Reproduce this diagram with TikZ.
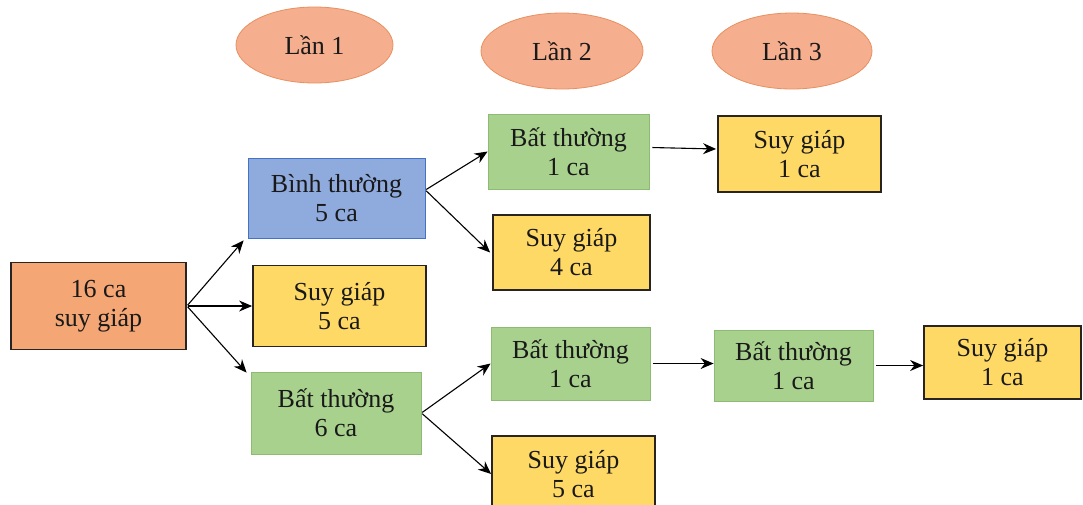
\documentclass[tikz,border=0pt]{standalone}
\usepackage{fontspec}
\setmainfont{Liberation Serif}
\usetikzlibrary{arrows.meta,shapes.geometric}
\definecolor{rootfill}{HTML}{F4A674}
\definecolor{yelfill}{HTML}{FFD966}
\definecolor{grnfill}{HTML}{A9D18E}
\definecolor{grnline}{HTML}{8DBB72}
\definecolor{blufill}{HTML}{8FAADC}
\definecolor{bluline}{HTML}{4472C4}
\definecolor{elfill}{HTML}{F5AE8E}
\definecolor{elline}{HTML}{E8905F}
\definecolor{darkline}{HTML}{2A2420}
\begin{document}
\begin{tikzpicture}[x=1pt,y=-1pt,
  every node/.style={inner sep=0pt, align=center, font=\fontsize{26}{29}\selectfont, text=black!90},
  rootbox/.style={draw=darkline, line width=1.8pt, fill=rootfill},
  yelbox/.style={draw=darkline, line width=1.8pt, fill=yelfill},
  grnbox/.style={draw=grnline, line width=0.8pt, fill=grnfill},
  blubox/.style={draw=bluline, line width=0.8pt, fill=blufill},
  roundlbl/.style={ellipse, draw=elline, line width=0.8pt, fill=elfill, font=\fontsize{26}{29}\selectfont},
  arr/.style={-{Stealth[length=13pt,width=11pt]}, line width=1.1pt, black, shorten <=1pt}
]
\useasboundingbox (0,0) rectangle (1083,504);
\fill[white] (0,0) rectangle (1083,504);

% ellipses
\node[roundlbl, minimum width=157pt, minimum height=76pt] (l1) at (314.5,45) {Lần 1};
\node[roundlbl, minimum width=162pt, minimum height=76pt] (l2) at (562,51) {Lần 2};
\node[roundlbl, minimum width=160pt, minimum height=76pt] (l3) at (792,51) {Lần 3};

% boxes
\node[rootbox, minimum width=175pt, minimum height=87pt] (root) at (98.5,306) {16 ca\\suy giáp};
\node[blubox, minimum width=177pt, minimum height=80pt] (bin) at (336.5,198) {Bình thường\\5 ca};
\node[yelbox, minimum width=173pt, minimum height=81pt] (sg5) at (339.5,306) {Suy giáp\\5 ca};
\node[grnbox, minimum width=170pt, minimum height=82pt] (bt6) at (336,413) {Bất thường\\6 ca};
\node[grnbox, minimum width=161pt, minimum height=75pt] (bt1u) at (568.5,151.5) {Bất thường\\1 ca};
\node[yelbox, minimum width=157pt, minimum height=75pt] (sg4) at (571.5,252.5) {Suy giáp\\4 ca};
\node[yelbox, minimum width=163pt, minimum height=76pt] (sg1u) at (799.5,154) {Suy giáp\\1 ca};
\node[grnbox, minimum width=159pt, minimum height=73pt] (bt1a) at (570.5,363.5) {Bất thường\\1 ca};
\node[grnbox, minimum width=159pt, minimum height=71pt] (bt1b) at (793.5,365.5) {Bất thường\\1 ca};
\node[yelbox, minimum width=157pt, minimum height=73pt] (sg1r) at (1002.5,362.5) {Suy giáp\\1 ca};
\node[yelbox, minimum width=163pt, minimum height=76pt] (sg5l) at (573.5,474) {Suy giáp\\5 ca};

% connectors
\draw[arr] (root.east) -- ([xshift=-4pt,yshift=-2pt]bin.south west);
\draw[arr] (root.east) -- (sg5.west);
\draw[arr] (root.east) -- ([xshift=-4pt,yshift=-1pt]bt6.north west);
\draw[arr] ([yshift=8pt]bin.east) -- (bt1u.west);
\draw[arr] ([yshift=8pt]bin.east) -- ([xshift=-2pt]sg4.west);
\draw[arr] ([xshift=2pt,yshift=4pt]bt1u.east) -- ([xshift=-1pt,yshift=5pt]sg1u.west);
\draw[arr] (bt6.east) -- (bt1a.west);
\draw[arr] (bt6.east) -- (sg5l.west);
\draw[arr] ([xshift=2pt]bt1a.east) -- (bt1b.west |- bt1a.east);
\draw[arr] ([xshift=2pt]bt1b.east) -- (sg1r.west |- bt1b.east);
\end{tikzpicture}
\end{document}
